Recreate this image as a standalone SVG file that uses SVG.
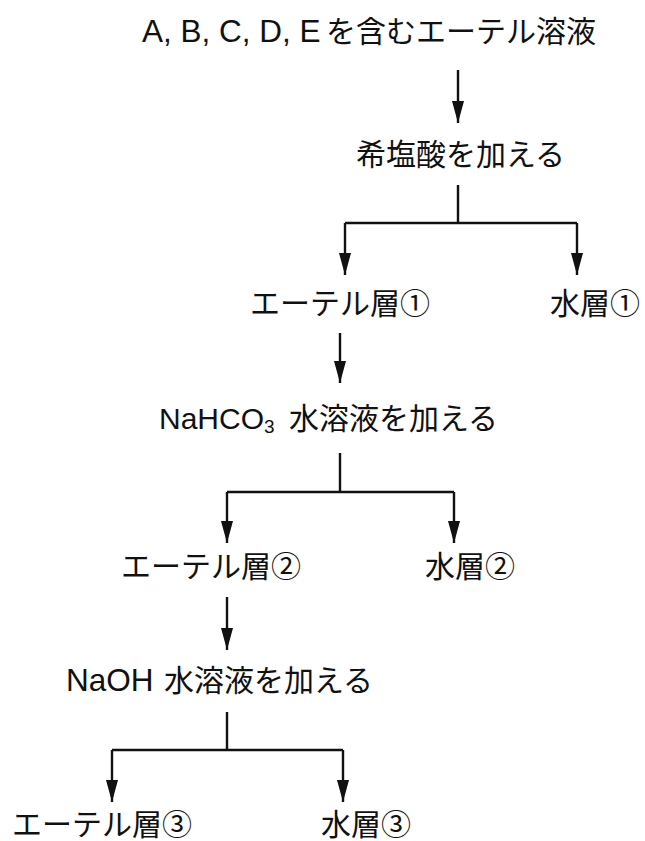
<svg xmlns="http://www.w3.org/2000/svg" width="645" height="841" viewBox="0 0 645 841">
<style>
  text { font-family: "Liberation Sans", "Noto Sans CJK JP", sans-serif; font-size: 30px; fill: #111; }
  .lat { font-size: 31.5px; }
  .ln { fill: none; stroke: #111; stroke-width: 2.4; }
  .ar { fill: none; stroke: #111; stroke-width: 2.4; marker-end: url(#ah); }
</style>
<defs>
  <marker id="ah" markerUnits="userSpaceOnUse" markerWidth="24" markerHeight="14" refX="22" refY="7" orient="auto">
    <path d="M0,1 L22,7 L0,13 z" fill="#111"/>
  </marker>
</defs>
<rect width="645" height="841" fill="#fff"/>
<g id="connectors">
  <path class="ar" d="M458,70 V123"/>
  <path class="ln" d="M458,185 V223 M345,223 H577"/>
  <path class="ar" d="M345,223 V275"/>
  <path class="ar" d="M577,223 V275"/>
  <path class="ar" d="M340,333 V383"/>
  <path class="ln" d="M340,453 V492 M227,492 H454"/>
  <path class="ar" d="M227,492 V543"/>
  <path class="ar" d="M454,492 V543"/>
  <path class="ar" d="M227,597 V650"/>
  <path class="ln" d="M227,712 V750 M112,750 H343"/>
  <path class="ar" d="M112,750 V802"/>
  <path class="ar" d="M343,750 V802"/>
</g>
<g id="start"><text x="142" y="42"><tspan class="lat">A, B, C, D, E</tspan><tspan x="326">を含むエーテル溶液</tspan></text></g>
<g id="step1"><text x="356" y="165">希塩酸を加える</text></g>
<g id="ether1"><text x="250" y="314">エーテル層①</text></g>
<g id="water1"><text x="550" y="314">水層①</text></g>
<g id="step2"><text x="159" y="429">NaHCO<tspan font-size="19" dy="4">3</tspan><tspan x="289" dy="-4">水溶液を加える</tspan></text></g>
<g id="ether2"><text x="121" y="577">エーテル層②</text></g>
<g id="water2"><text x="425" y="577">水層②</text></g>
<g id="step3"><text x="66" y="691"><tspan class="lat">NaOH</tspan><tspan x="164">水溶液を加える</tspan></text></g>
<g id="ether3"><text x="12" y="835">エーテル層③</text></g>
<g id="water3"><text x="321" y="835">水層③</text></g>
</svg>
